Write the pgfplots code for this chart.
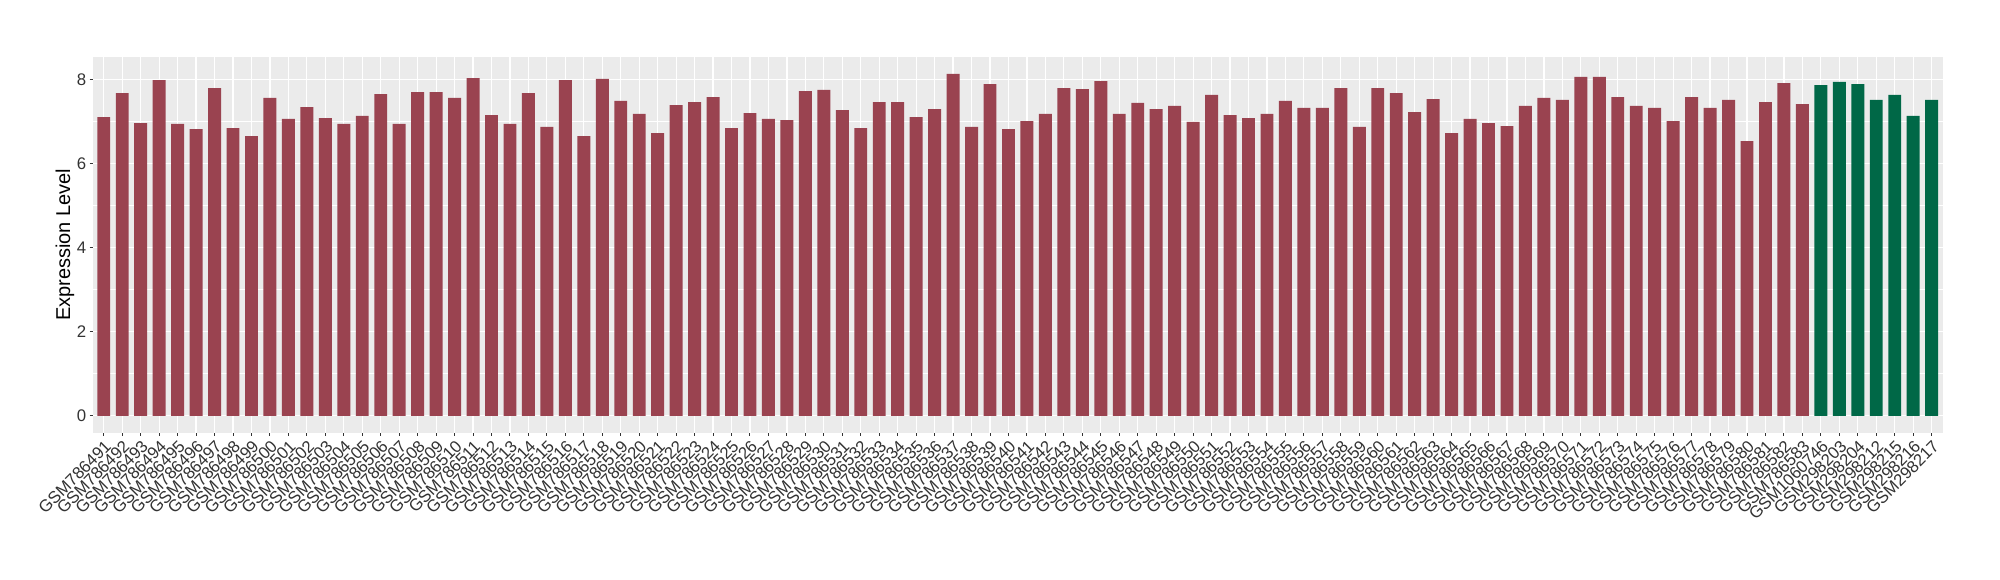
\documentclass[border=0pt]{standalone}
\usepackage{fontspec}
\setmainfont{Liberation Sans}
\usepackage{pgfplots}
\pgfplotsset{compat=1.18}
\definecolor{barred}{HTML}{9A4350}
\definecolor{bargreen}{HTML}{006847}
\definecolor{panelbg}{HTML}{EBEBEB}
\begin{document}
\begin{tikzpicture}
\useasboundingbox (0,0) rectangle (1000bp,290bp);
\begin{axis}[
  at={(46.35bp,73.5bp)}, anchor=south west,
  width=925bp, height=188.15bp, scale only axis,
  xmin=-0.6, xmax=99.6, ymin=-0.41, ymax=8.54,
  axis background/.style={fill=panelbg},
  axis line style={draw=none},
  xtick={0,...,99},
  xticklabels={GSM786491,GSM786492,GSM786493,GSM786494,GSM786495,GSM786496,GSM786497,GSM786498,GSM786499,GSM786500,
GSM786501,GSM786502,GSM786503,GSM786504,GSM786505,GSM786506,GSM786507,GSM786508,GSM786509,GSM786510,
GSM786511,GSM786512,GSM786513,GSM786514,GSM786515,GSM786516,GSM786517,GSM786518,GSM786519,GSM786520,
GSM786521,GSM786522,GSM786523,GSM786524,GSM786525,GSM786526,GSM786527,GSM786528,GSM786529,GSM786530,
GSM786531,GSM786532,GSM786533,GSM786534,GSM786535,GSM786536,GSM786537,GSM786538,GSM786539,GSM786540,
GSM786541,GSM786542,GSM786543,GSM786544,GSM786545,GSM786546,GSM786547,GSM786548,GSM786549,GSM786550,
GSM786551,GSM786552,GSM786553,GSM786554,GSM786555,GSM786556,GSM786557,GSM786558,GSM786559,GSM786560,
GSM786561,GSM786562,GSM786563,GSM786564,GSM786565,GSM786566,GSM786567,GSM786568,GSM786569,GSM786570,
GSM786571,GSM786572,GSM786573,GSM786574,GSM786575,GSM786576,GSM786577,GSM786578,GSM786579,GSM786580,
GSM786581,GSM786582,GSM786583,GSM1060746,GSM298203,GSM298204,GSM298212,GSM298215,GSM298216,GSM298217},
  ytick={0,2,4,6,8},
  minor ytick={1,3,5,7},
  xmajorgrids, ymajorgrids, yminorgrids,
  major grid style={white, line width=0.6bp},
  minor grid style={white, line width=0.3bp},
  tick align=outside,
  major tick length=1.5bp,
  minor tick length=0pt,
  tick style={draw=black!80, line width=0.5bp},
  xtick pos=bottom, ytick pos=left,
  /pgf/number format/assume math mode=true,
  xticklabel style={rotate=45, anchor=north east, font=\fontsize{8.4bp}{10bp}\selectfont, text=black!80, inner sep=1bp},
  yticklabel style={font=\fontsize{8.4bp}{10bp}\selectfont, text=black!80, inner sep=1.5bp},
  ylabel={Expression Level},
  ylabel style={at={(axis description cs:-0.015,0.5)}, anchor=center, rotate=0, font=\fontsize{10bp}{12bp}\selectfont},
  axis on top=false,
]
\addplot[ybar, bar width=0.7, bar shift=0pt, fill=barred, draw=none] coordinates {
(0,7.105) (1,7.675) (2,6.96) (3,7.98) (4,6.94) (5,6.82) (6,7.79) (7,6.84) (8,6.65) (9,7.56)
(10,7.06) (11,7.34) (12,7.08) (13,6.94) (14,7.13) (15,7.65) (16,6.94) (17,7.70) (18,7.70) (19,7.56)
(20,8.03) (21,7.15) (22,6.94) (23,7.675) (24,6.87) (25,7.98) (26,6.65) (27,8.01) (28,7.49) (29,7.18)
(30,6.72) (31,7.39) (32,7.46) (33,7.58) (34,6.84) (35,7.20) (36,7.06) (37,7.03) (38,7.72) (39,7.75)
(40,7.27) (41,6.84) (42,7.46) (43,7.46) (44,7.105) (45,7.29) (46,8.13) (47,6.87) (48,7.89) (49,6.82)
(50,7.01) (51,7.18) (52,7.79) (53,7.77) (54,7.96) (55,7.18) (56,7.44) (57,7.29) (58,7.37) (59,6.99)
(60,7.63) (61,7.15) (62,7.08) (63,7.18) (64,7.49) (65,7.32) (66,7.32) (67,7.79) (68,6.87) (69,7.79)
(70,7.675) (71,7.22) (72,7.53) (73,6.72) (74,7.06) (75,6.96) (76,6.89) (77,7.37) (78,7.56) (79,7.51)
(80,8.06) (81,8.06) (82,7.58) (83,7.37) (84,7.32) (85,7.01) (86,7.58) (87,7.32) (88,7.51) (89,6.53)
(90,7.46) (91,7.91) (92,7.41)
};
\addplot[ybar, bar width=0.7, bar shift=0pt, fill=bargreen, draw=none] coordinates {
(93,7.865) (94,7.94) (95,7.89) (96,7.51) (97,7.63) (98,7.13) (99,7.51)
};
\end{axis}
\end{tikzpicture}
\end{document}
